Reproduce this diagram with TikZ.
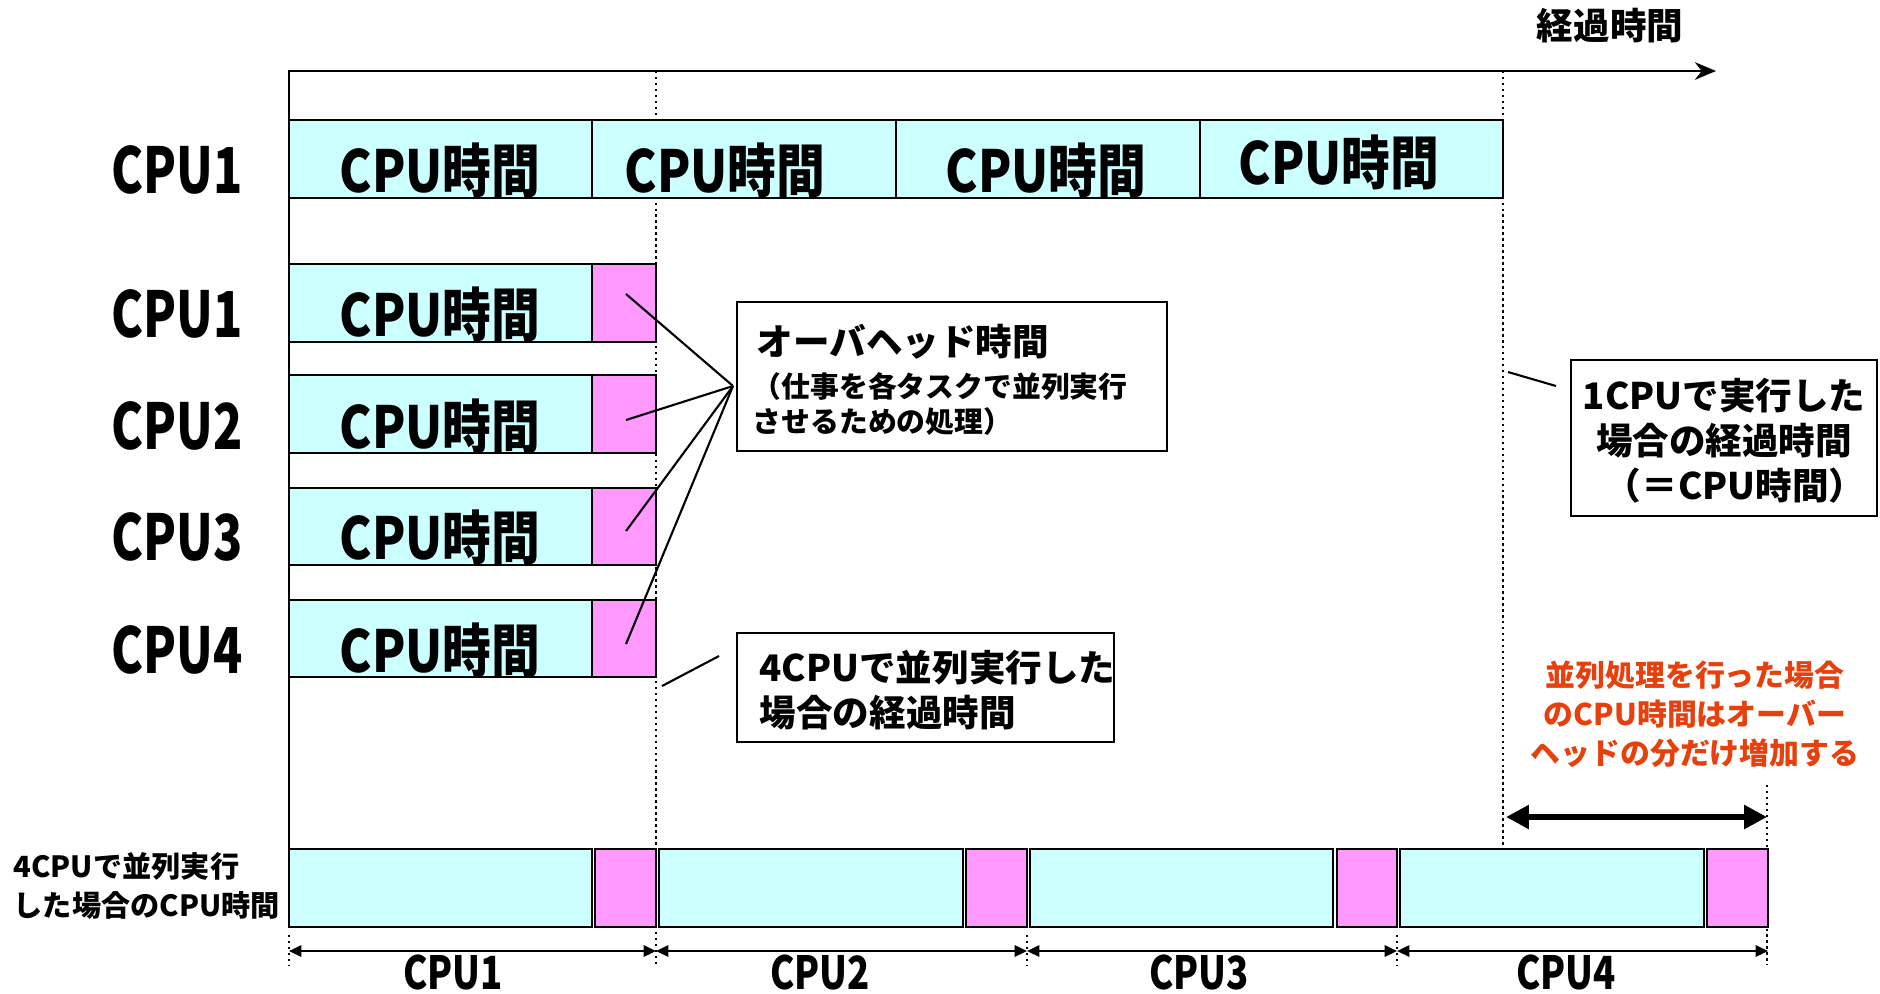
\documentclass[tikz,border=0pt]{standalone}
\usepackage{fontspec}
\setmainfont{Noto Sans CJK JP}
\usetikzlibrary{arrows.meta}

\definecolor{cpucol}{RGB}{204,255,255}
\definecolor{ovhcol}{RGB}{255,153,255}
\definecolor{redcol}{RGB}{232,64,12}
\newcommand{\narrow}[2]{\scalebox{#1}[1]{#2}}

\tikzset{
    cpubox/.style={draw, line width=0.8pt, fill=cpucol},
    ovhbox/.style={draw, line width=0.8pt, fill=ovhcol},
    notebox/.style={draw, line width=0.7pt, fill=white},
    guide/.style={densely dotted, line width=0.7pt},
    lead/.style={line width=0.6pt},
    dim/.style={line width=0.6pt, {Triangle[length=3.5pt,width=3.2pt]}-{Triangle[length=3.5pt,width=3.2pt]}},
    rowlabel/.style={inner sep=0, font=\fontsize{18}{20}\selectfont\bfseries},
    boxtext/.style={inner sep=0, font=\fontsize{16.5}{18}\selectfont\bfseries},
    notetext/.style={inner sep=0, font=\fontsize{10.4}{12.8}\selectfont\bfseries},
    smalltext/.style={inner sep=0, font=\fontsize{8.2}{10.2}\selectfont\bfseries}
}

\begin{document}
\begin{tikzpicture}[x=0.01cm, y=-0.01cm]
            \useasboundingbox (0,0) rectangle (1880,993);

            \coordinate (O) at (289, 71);
            \coordinate (E) at (1716, 71);
            \coordinate (B) at (289, 849);

            \draw[guide] (656, 71) -- (656, 965);
            \draw[guide] (1503, 71) -- (1503, 849);
            \draw[guide] (1767, 785) -- (1767, 965);
            \draw[guide] (289, 935) -- (289, 965);
            \draw[guide] (1027, 935) -- (1027, 965);
            \draw[guide] (1397, 935) -- (1397, 965);

            \draw[line width=0.8pt, -{Stealth[length=6pt,width=5pt]}] (B) -- (O) -- (E);
            \node[notetext] (T) at (1610, 26) {経過時間};

            \draw[cpubox] (289, 120) rectangle (592, 198);
            \draw[cpubox] (592, 120) rectangle (896, 198);
            \draw[cpubox] (896, 120) rectangle (1200, 198);
            \draw[cpubox] (1200, 120) rectangle (1503, 198);
            \node[rowlabel] (L0) at (177, 170) {\narrow{0.76}{CPU1}};
            \node[boxtext] (S1) at (440, 170) {\narrow{0.84}{CPU時間}};
            \node[boxtext] (S2) at (725, 170) {\narrow{0.84}{CPU時間}};
            \node[boxtext] (S3) at (1046, 170) {\narrow{0.84}{CPU時間}};
            \node[boxtext] (S4) at (1339, 162) {\narrow{0.84}{CPU時間}};

            \draw[cpubox] (289, 264) rectangle (592, 342);
            \draw[ovhbox] (592, 264) rectangle (656, 342);
            \draw[cpubox] (289, 375) rectangle (592, 453);
            \draw[ovhbox] (592, 375) rectangle (656, 453);
            \draw[cpubox] (289, 488) rectangle (592, 565);
            \draw[ovhbox] (592, 488) rectangle (656, 565);
            \draw[cpubox] (289, 600) rectangle (592, 677);
            \draw[ovhbox] (592, 600) rectangle (656, 677);
            \node[rowlabel] (L1) at (177, 314) {\narrow{0.76}{CPU1}};
            \node[rowlabel] (L2) at (177, 426) {\narrow{0.76}{CPU2}};
            \node[rowlabel] (L3) at (177, 537) {\narrow{0.76}{CPU3}};
            \node[rowlabel] (L4) at (177, 650) {\narrow{0.76}{CPU4}};
            \node[boxtext] (R1) at (440, 314) {\narrow{0.84}{CPU時間}};
            \node[boxtext] (R2) at (440, 426) {\narrow{0.84}{CPU時間}};
            \node[boxtext] (R3) at (440, 537) {\narrow{0.84}{CPU時間}};
            \node[boxtext] (R4) at (440, 650) {\narrow{0.84}{CPU時間}};

            \coordinate (H) at (733, 386);
            \coordinate (P1) at (626, 294);
            \coordinate (P2) at (626, 420);
            \coordinate (P3) at (626, 531);
            \coordinate (P4) at (626, 644);
            \draw[lead] (P1) -- (H);
            \draw[lead] (P2) -- (H);
            \draw[lead] (P3) -- (H);
            \draw[lead] (P4) -- (H);

            \draw[notebox] (737, 302) rectangle (1167, 451);
            \node[notetext, anchor=west] (N1) at (756, 342) {オーバヘッド時間};
            \node[smalltext, anchor=west, align=left] (N2) at (752, 404) {（仕事を各タスクで並列実行\\させるための処理）};

            \coordinate (A1) at (1508, 372);
            \coordinate (A2) at (1556, 386);
            \draw[lead] (A1) -- (A2);
            \draw[notebox] (1571, 360) rectangle (1877, 516);
            \node[notetext, align=center] (N3) at (1724, 441) {1CPUで実行した\\場合の経過時間\\\hspace*{0.6em}（＝CPU時間）};

            \coordinate (C1) at (662, 686);
            \coordinate (C2) at (719, 656);
            \draw[lead] (C1) -- (C2);
            \draw[notebox] (737, 633) rectangle (1114, 742);
            \node[notetext, anchor=west, align=left] (N4) at (759, 690) {4CPUで並列実行した\\場合の経過時間};

            \node[inner sep=0, font=\fontsize{8.5}{11.1}\selectfont\bfseries, text=redcol, align=center] (W) at (1695, 714) {並列処理を行った場合\\のCPU時間はオーバー\\ヘッドの分だけ増加する};
            \coordinate (D1) at (1506, 817);
            \coordinate (D2) at (1767, 817);
            \draw[line width=1.8pt, {Triangle[length=6.5pt,width=6.5pt]}-{Triangle[length=6.5pt,width=6.5pt]}] (D1) -- (D2);

            \node[inner sep=0, font=\fontsize{8.3}{11.1}\selectfont\bfseries, anchor=west, align=left] (M) at (13, 886) {4CPUで並列実行\\した場合のCPU時間};
            \draw[cpubox] (289, 849) rectangle (592, 927);
            \draw[ovhbox] (595, 849) rectangle (656, 927);
            \draw[cpubox] (659, 849) rectangle (963, 927);
            \draw[ovhbox] (966, 849) rectangle (1027, 927);
            \draw[cpubox] (1030, 849) rectangle (1333, 927);
            \draw[ovhbox] (1337, 849) rectangle (1397, 927);
            \draw[cpubox] (1400, 849) rectangle (1704, 927);
            \draw[ovhbox] (1707, 849) rectangle (1768, 927);

            \coordinate (K0) at (289, 951);
            \coordinate (K1) at (656, 951);
            \coordinate (K2) at (1027, 951);
            \coordinate (K3) at (1397, 951);
            \coordinate (K4) at (1768, 951);
            \draw[dim] (K0) -- (K1);
            \draw[dim] (K1) -- (K2);
            \draw[dim] (K2) -- (K3);
            \draw[dim] (K3) -- (K4);
            \node[rowlabel, font=\fontsize{13}{14}\selectfont\bfseries] (U1) at (453, 972) {\narrow{0.8}{CPU1}};
            \node[rowlabel, font=\fontsize{13}{14}\selectfont\bfseries] (U2) at (820, 972) {\narrow{0.8}{CPU2}};
            \node[rowlabel, font=\fontsize{13}{14}\selectfont\bfseries] (U3) at (1199, 972) {\narrow{0.8}{CPU3}};
            \node[rowlabel, font=\fontsize{13}{14}\selectfont\bfseries] (U4) at (1566, 972) {\narrow{0.8}{CPU4}};
        \end{tikzpicture}
\end{document}
